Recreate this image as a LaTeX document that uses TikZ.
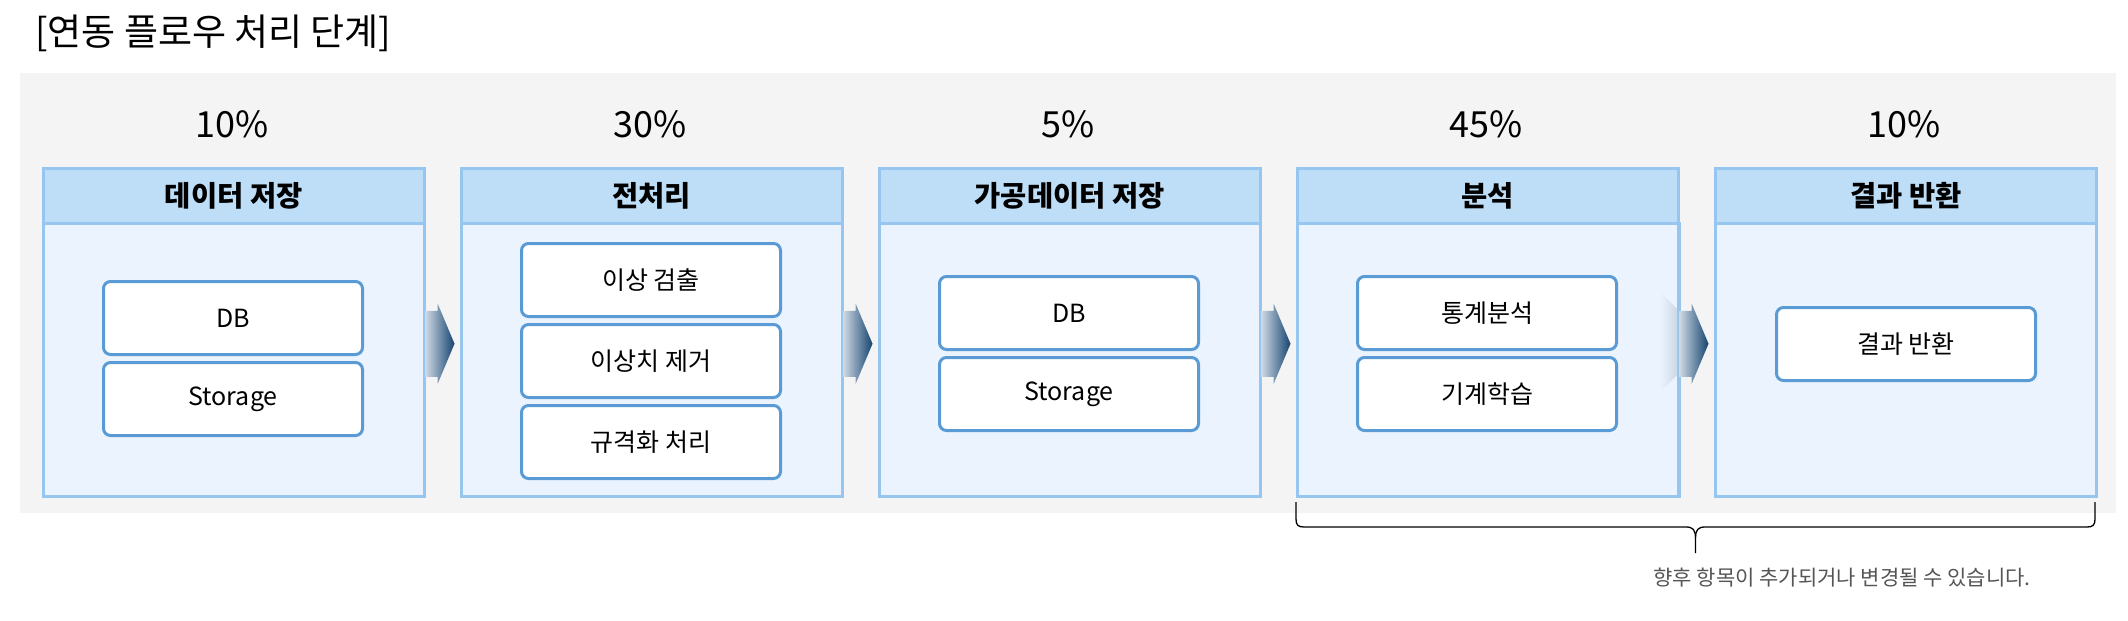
\documentclass[tikz,border=0pt]{standalone}
\usepackage{fontspec}
\setmainfont{Noto Sans CJK KR}
\usetikzlibrary{calc}
\definecolor{bggray}{RGB}{244,244,244}
\definecolor{headfill}{RGB}{190,222,247}
\definecolor{bodyfill}{RGB}{235,244,254}
\definecolor{boxline}{RGB}{150,198,240}
\definecolor{itemline}{RGB}{91,155,213}
\definecolor{arrlight}{RGB}{205,216,227}
\definecolor{arrdark}{RGB}{22,68,112}
\definecolor{notegray}{RGB}{85,85,85}
\tikzset{
  stagehead/.style={draw=boxline, fill=headfill, line width=2.5pt, minimum width=381pt, minimum height=55pt, inner sep=0pt, anchor=north west, font=\fontsize{28.5}{32}\selectfont\bfseries},
  stagebody/.style={draw=boxline, fill=bodyfill, line width=2.5pt, minimum width=381pt, minimum height=273pt, inner sep=0pt, anchor=north west},
  itembox/.style={draw=itemline, fill=white, line width=3pt, rounded corners=7pt, minimum width=259pt, minimum height=73pt, inner sep=0pt, anchor=north west, font=\fontsize{25}{29}\selectfont},
  pctlabel/.style={font=\fontsize{36}{42}\selectfont, inner sep=0pt},
  flowarrow/.style={left color=arrlight, right color=arrdark},
  bracepath/.style={draw=black, line width=1.3pt}
}
\newcommand{\flowarr}[1]{%
  \shade[flowarrow] ($(#1.east)+(0,-16)$) ++(0,-33) -- ++(12,0) -- ++(0,-7.5) -- ++(17,40.5) -- ++(-17,40.5) -- ++(0,-7.5) -- ++(-12,0) -- cycle;}
\begin{document}
\begin{tikzpicture}[x=1pt,y=-1pt]
\useasboundingbox (0,0) rectangle (2128,621);
\fill[white] (0,0) rectangle (2128,621);
\node[anchor=west, inner sep=0pt, font=\fontsize{37}{42}\selectfont] (title) at (35,33) {[연동 플로우 처리 단계]};
\fill[bggray] (20,73) rectangle (2116,513);
% stages
\node[stagebody] (b0) at (42,222) {};
\node[stagebody] (b1) at (460,222) {};
\node[stagebody] (b2) at (878,222) {};
\node[stagebody] (b3) at (1296,222) {};
\node[stagebody] (b4) at (1714,222) {};
\node[stagehead] (h0) at (42,167) {데이터 저장};
\node[stagehead] (h1) at (460,167) {전처리};
\node[stagehead] (h2) at (878,167) {가공데이터 저장};
\node[stagehead] (h3) at (1296,167) {분석};
\node[stagehead] (h4) at (1714,167) {결과 반환};
\node[pctlabel] (p0) at (232.5,124) {10\%};
\node[pctlabel] (p1) at (650.5,124) {30\%};
\node[pctlabel] (p2) at (1068.5,124) {5\%};
\node[pctlabel] (p3) at (1486.5,124) {45\%};
\node[pctlabel] (p4) at (1904.5,124) {10\%};
% items
\node[itembox] (i01) at (102,280) {DB};
\node[itembox] (i02) at (102,361) {Storage};
\node[itembox] (i11) at (520,242) {이상 검출};
\node[itembox] (i12) at (520,323) {이상치 제거};
\node[itembox] (i13) at (520,404) {규격화 처리};
\node[itembox] (i21) at (938,275) {DB};
\node[itembox] (i22) at (938,356) {Storage};
\node[itembox] (i31) at (1356,275) {통계분석};
\node[itembox] (i32) at (1356,356) {기계학습};
\node[itembox] (i41) at (1775,306) {결과 반환};
% faded tail of the last arrow inside the analysis box
\shade[left color=bodyfill, right color=arrlight] (1660,292) -- (1677,309) -- (1677,375) -- (1660,392) -- cycle;
\draw[draw=boxline, line width=2.5pt] (b3.north east) -- (b3.south east);
% arrows
\flowarr{b0}
\flowarr{b1}
\flowarr{b2}
\flowarr{b3}
% brace
\draw[bracepath] (1296,502) -- (1296,519) .. controls (1296,525) and (1298,527) .. (1304,527) -- (1686,527) .. controls (1693,527) and (1695.5,530) .. (1695.5,538) -- (1695.5,553);
\draw[bracepath] (1695.5,538) .. controls (1695.5,530) and (1698,527) .. (1705,527) -- (2087,527) .. controls (2093,527) and (2095,525) .. (2095,519) -- (2095,502);
\node[font=\fontsize{21}{25}\selectfont, text=notegray, inner sep=0pt] (note) at (1842,578) {향후 항목이 추가되거나 변경될 수 있습니다.};
\end{tikzpicture}
\end{document}
